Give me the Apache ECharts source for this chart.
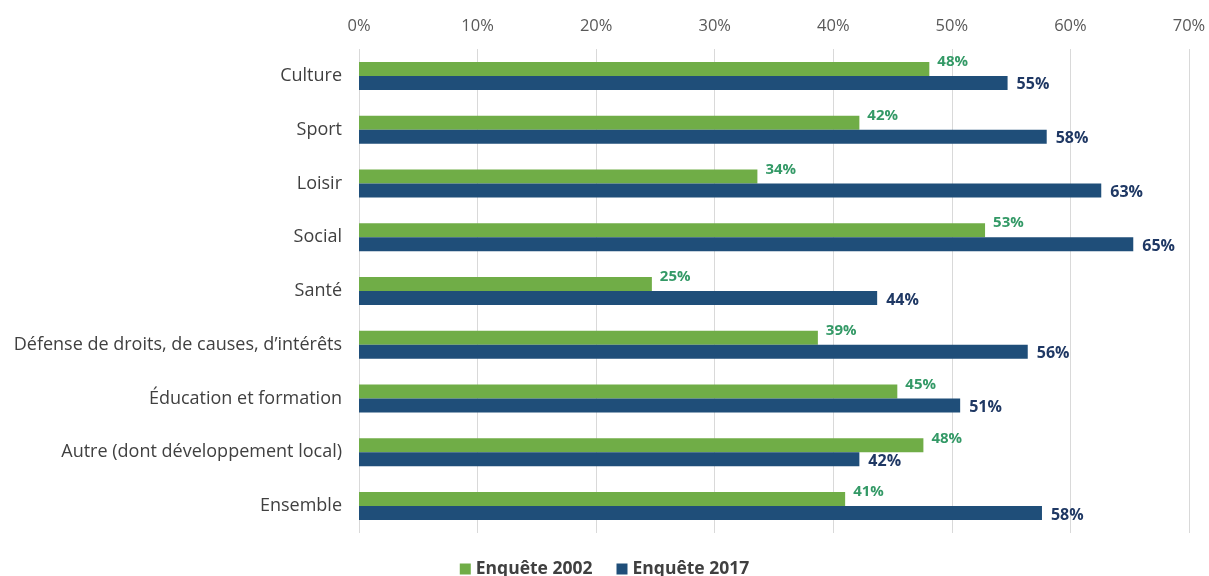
<!DOCTYPE html>
<html><head><meta charset="utf-8">
<script src="https://cdn.jsdelivr.net/npm/echarts@6/dist/echarts.min.js"></script>
<style>html,body{margin:0;padding:0;background:#fff}#c{width:1209px;height:576px}</style>
</head><body><div id="c"></div>
<script>
const categories = ["Culture","Sport","Loisir","Social","Santé","Défense de droits, de causes, d’intérêts","Éducation et formation","Autre (dont développement local)","Ensemble"];
const values2002 = [48.1,42.2,33.6,52.8,24.7,38.7,45.4,47.6,41.0];
const values2017 = [54.7,58.0,62.6,65.3,43.7,56.4,50.7,42.2,57.6];
const seriesNames = ["Enquête 2002","Enquête 2017"];
const xTicks = [0,10,20,30,40,50,60,70];

const chart = echarts.init(document.getElementById('c'));
const font = "'Open Sans', sans-serif";
chart.setOption({
  animation:false,
  grid:{left:359,right:20,top:49,bottom:43,containLabel:false},
  xAxis:{type:'value',position:'top',min:xTicks[0],max:xTicks[xTicks.length-1],interval:10,
    axisLine:{show:false},axisTick:{show:false},
    axisLabel:{formatter:v=>v+'%',color:'#595959',fontSize:16.5,fontFamily:font,margin:14},
    splitLine:{lineStyle:{color:'#d9d9d9',width:1}}},
  yAxis:{type:'category',data:categories,inverse:true,
    axisLine:{show:false},axisTick:{show:false},
    axisLabel:{color:'#404040',fontSize:18,fontFamily:font,margin:17}},
  legend:{top:555,left:'center',itemWidth:11,itemHeight:11,itemGap:24,icon:'rect',
    textStyle:{color:'#404040',fontSize:17.5,fontWeight:'bold',fontFamily:font}},
  series:[
    {name:seriesNames[0],type:'bar',data:values2002,barWidth:14,barGap:'0%',
      itemStyle:{color:'#70ad47'},
      label:{show:true,position:'right',distance:8,offset:[0,-7],formatter:p=>Math.round(p.value)+'%',
        color:'#339966',fontWeight:'bold',fontSize:15,fontFamily:font}},
    {name:seriesNames[1],type:'bar',data:values2017,barWidth:14,
      itemStyle:{color:'#1f4e79'},
      label:{show:true,position:'right',distance:9,offset:[0,2],formatter:p=>Math.round(p.value)+'%',
        color:'#1f3864',fontWeight:'bold',fontSize:16,fontFamily:font}}
  ]
});
</script></body></html>
